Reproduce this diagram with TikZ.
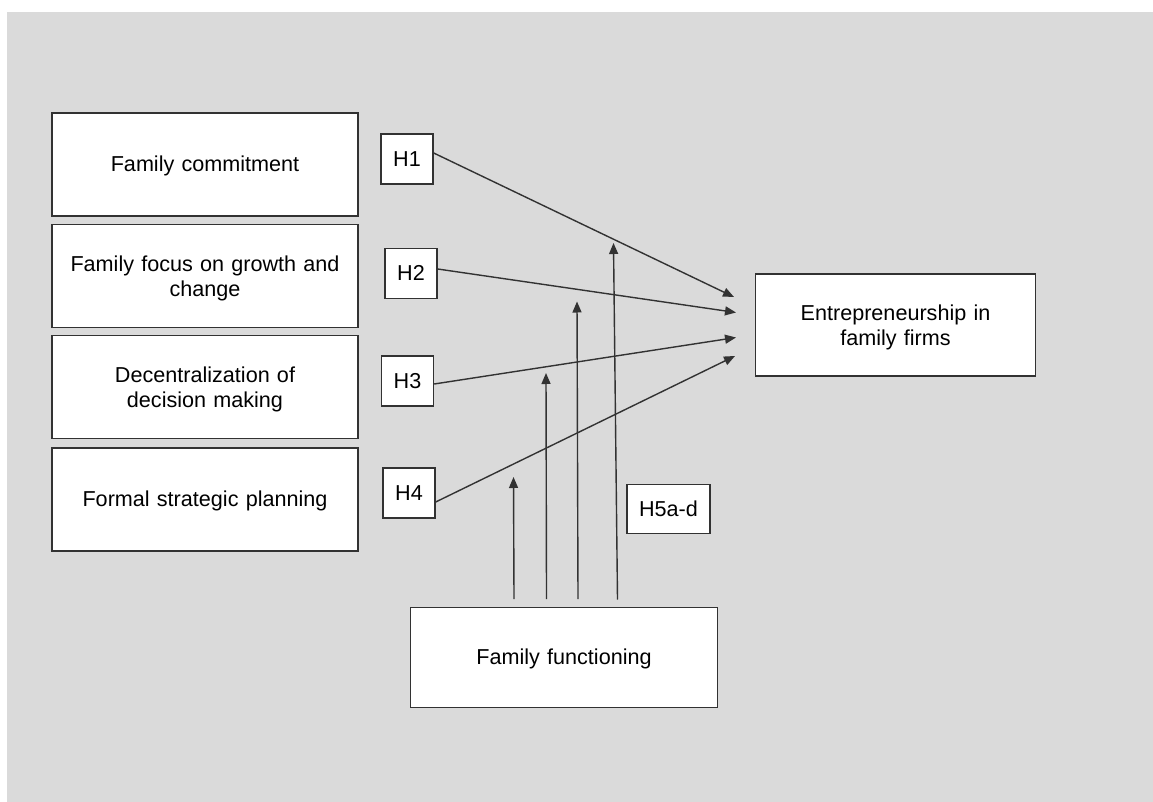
\documentclass[tikz,border=0pt]{standalone}
\usepackage{fontspec}
\setmainfont{Liberation Sans}
\usetikzlibrary{arrows.meta}
\definecolor{panel}{RGB}{218,218,218}
\definecolor{ink}{RGB}{50,50,50}
\begin{document}
\begin{tikzpicture}[x=1pt,y=-1pt,
  every node/.style={font=\fontsize{21.6}{25}\selectfont},
  box/.style={draw=ink,line width=1.4pt,fill=white,align=center,inner sep=0pt,text height=19.5pt},
  oneline/.style={text depth=4.6pt},
  bigbox/.style={box,minimum width=306pt,minimum height=103pt,text width=290pt},
  hbox/.style={box,oneline,minimum width=52pt,minimum height=50pt},
  link/.style={draw=ink,line width=1.4pt,-{Triangle[length=11pt,width=9pt]}}]
  % canvas
  \useasboundingbox (0,0) rectangle (1153,802);
  \fill[panel] (7,12) rectangle (1153,802);

  % antecedents
  \node[bigbox,oneline] (fc) at (205,164.5) {Family commitment};
  \node[bigbox] (fg) at (205,276) {Family focus on growth and\\change};
  \node[bigbox] (dd) at (205,387) {Decentralization of\\decision making};
  \node[bigbox,oneline] (fs) at (205,499.5) {Formal strategic planning};

  % outcome and moderator
  \node[box,minimum width=280pt,minimum height=102pt,text width=270pt] (ef) at (895.5,325) {Entrepreneurship in\\family firms};
  \node[bigbox,oneline,minimum width=307pt,minimum height=100pt] (ff) at (564,657.5) {Family functioning};

  % hypothesis labels
  \node[hbox] (h1) at (407,159) {H1};
  \node[hbox] (h2) at (411,273.5) {H2};
  \node[hbox] (h3) at (407.5,381) {H3};
  \node[hbox] (h4) at (409,493) {H4};
  \node[hbox,minimum width=83pt,minimum height=49pt] (h5) at (668.5,509) {H5a-d};

  % arrow ends in front of the outcome box
  \coordinate (t1) at (734,297);
  \coordinate (t2) at (736,312.5);
  \coordinate (t3) at (736,337.5);
  \coordinate (t4) at (735,356);

  \draw[link] ([yshift=6pt]h1.east) -- (t1);
  \draw[link] ([yshift=4.5pt]h2.east) -- (t2);
  \draw[link] ([yshift=-3pt]h3.east) -- (t3);
  \draw[link] ([yshift=-9pt]h4.east) -- (t4);

  % moderating arrows rising from family functioning
  \coordinate (b1) at (514,599);
  \coordinate (b2) at (546.5,599);
  \coordinate (b3) at (578,599);
  \coordinate (b4) at (617.5,599.5);
  \coordinate (m1) at (513.5,477);
  \coordinate (m2) at (546,373);
  \coordinate (m3) at (577,301.5);
  \coordinate (m4) at (613.5,243);

  \draw[link] (b1) -- (m1);
  \draw[link] (b2) -- (m2);
  \draw[link] (b3) -- (m3);
  \draw[link] (b4) -- (m4);
\end{tikzpicture}
\end{document}
